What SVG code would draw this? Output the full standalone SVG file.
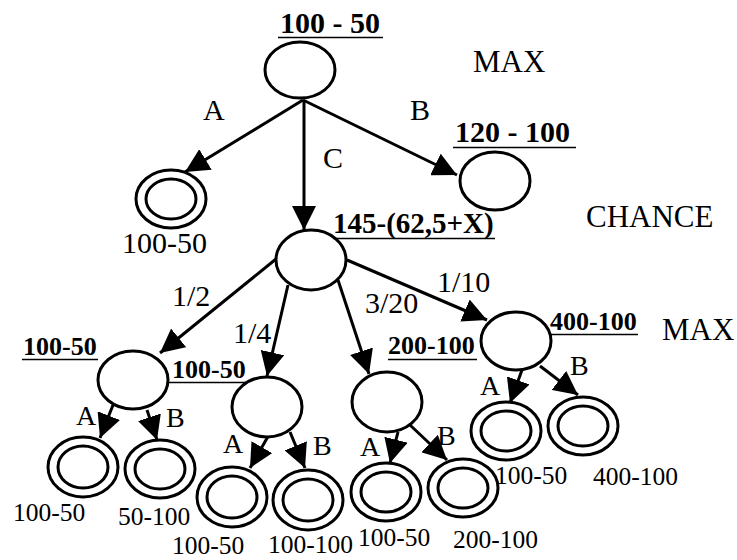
<svg xmlns="http://www.w3.org/2000/svg" width="737" height="560" viewBox="0 0 737 560">
<style>
text{font-family:'Liberation Serif','Tinos','Times New Roman','Nimbus Roman','DejaVu Serif',serif;fill:#000}
.t{font-size:30px}
.h{font-size:31px}
.e{font-size:28px}
.v{font-size:25.5px}
.bt{font-size:30px;font-weight:bold}
.bs{font-size:26px;font-weight:bold}
.n{fill:#fff;stroke:#000;stroke-width:3}
.ul{stroke:#000;stroke-width:1.5}
.c{stroke:#000;stroke-width:3;fill:none;marker-end:url(#ah)}
</style>
<defs>
<marker id="ah" viewBox="0 0 10 10" refX="10" refY="5" markerWidth="8" markerHeight="8" orient="auto" markerUnits="strokeWidth">
<path d="M0,0 L10,5 L0,10 z" fill="#000"/>
</marker>
</defs>
<rect width="737" height="560" fill="#fff"/>
<g font-family="Liberation Serif, Tinos, Times New Roman, serif">
<g id="connectors">
<line class="c" x1="303" y1="100" x2="185" y2="172"/>
<line class="c" x1="304" y1="100" x2="304" y2="230"/>
<line class="c" x1="303" y1="100" x2="457" y2="175"/>
<line class="c" x1="276" y1="259" x2="160" y2="353"/>
<line class="c" x1="288" y1="285" x2="267" y2="376"/>
<line class="c" x1="338" y1="280" x2="369" y2="374"/>
<line class="c" x1="347" y1="260" x2="487" y2="320"/>
<line class="c" x1="113" y1="405" x2="100" y2="438"/>
<line class="c" x1="147" y1="410" x2="157" y2="440"/>
<line class="c" x1="270" y1="433" x2="250" y2="468"/>
<line class="c" x1="290" y1="432" x2="305" y2="468"/>
<line class="c" x1="398" y1="432" x2="390" y2="463"/>
<line class="c" x1="410" y1="425" x2="447" y2="460"/>
<line class="c" x1="522" y1="370" x2="510" y2="403"/>
<line class="c" x1="540" y1="366" x2="578" y2="395"/>
</g>
<g id="edge-labels">
<text class="t" x="203" y="120">A</text>
<text class="t" x="410" y="120">B</text>
<text class="t" x="323" y="168">C</text>
<text class="t" x="172" y="306">1/2</text>
<text class="t" x="233" y="343">1/4</text>
<text class="t" x="365" y="313">3/20</text>
<text class="t" x="437" y="292">1/10</text>
<text class="e" x="76" y="425">A</text>
<text class="e" x="166" y="427">B</text>
<text class="e" x="223" y="453">A</text>
<text class="e" x="313" y="455">B</text>
<text class="e" x="360" y="456">A</text>
<text class="e" x="437" y="445">B</text>
<text class="e" x="480" y="395">A</text>
<text class="e" x="570" y="375">B</text>
</g>
<g id="level-labels">
<text class="h" x="473" y="72">MAX</text>
<text class="h" x="586" y="227">CHANCE</text>
<text class="h" x="662" y="340">MAX</text>
</g>
<g id="root">
<ellipse class="n" cx="300" cy="70" rx="35" ry="28"/>
<text class="bt" x="280" y="33">100 - 50</text>
<line class="ul" x1="278" y1="37.5" x2="383" y2="37.5"/>
</g>
<g id="node-b">
<ellipse class="n" cx="495" cy="181" rx="35" ry="29"/>
<text class="bt" x="455" y="142">120 - 100</text>
<line class="ul" x1="453" y1="147.5" x2="576" y2="147.5"/>
</g>
<g id="leaf-a">
<ellipse class="n" cx="171" cy="199" rx="35" ry="29"/>
<ellipse class="n" cx="171" cy="199" rx="25" ry="20"/>
<text class="t" x="122" y="253">100-50</text>
</g>
<g id="chance">
<ellipse class="n" cx="311" cy="260" rx="35" ry="30"/>
<text class="bt" style="font-size:29px" x="333" y="233">145-(62,5+X)</text>
<line class="ul" x1="333" y1="238.5" x2="495" y2="238.5"/>
</g>
<g id="max1">
<ellipse class="n" cx="133" cy="380" rx="35" ry="29"/>
<text class="bs" x="23" y="355">100-50</text>
<line class="ul" x1="22" y1="359.5" x2="98" y2="359.5"/>
</g>
<g id="max2">
<ellipse class="n" cx="267" cy="407" rx="35" ry="30"/>
<text class="bs" x="172" y="378">100-50</text>
<line class="ul" x1="168" y1="382.5" x2="247" y2="382.5"/>
</g>
<g id="max3">
<ellipse class="n" cx="387" cy="402" rx="35" ry="30"/>
<text class="bs" x="388" y="354">200-100</text>
<line class="ul" x1="388" y1="359.5" x2="477" y2="359.5"/>
</g>
<g id="max4">
<ellipse class="n" cx="516" cy="341" rx="35" ry="29"/>
<text class="bs" x="550" y="330">400-100</text>
<line class="ul" x1="550" y1="334.5" x2="638" y2="334.5"/>
</g>
<g id="leaf1a">
<ellipse class="n" cx="83" cy="467" rx="35" ry="30"/>
<ellipse class="n" cx="83" cy="467" rx="25" ry="21"/>
<text class="v" x="13" y="521">100-50</text>
</g>
<g id="leaf1b">
<ellipse class="n" cx="160" cy="469" rx="35" ry="29"/>
<ellipse class="n" cx="160" cy="469" rx="25" ry="20"/>
<text class="v" x="118" y="525">50-100</text>
</g>
<g id="leaf2a">
<ellipse class="n" cx="232" cy="497" rx="35" ry="30"/>
<ellipse class="n" cx="232" cy="497" rx="25" ry="21"/>
<text class="v" x="172" y="554">100-50</text>
</g>
<g id="leaf2b">
<ellipse class="n" cx="308" cy="500" rx="35" ry="30"/>
<ellipse class="n" cx="308" cy="500" rx="25" ry="21"/>
<text class="v" x="268" y="553">100-100</text>
</g>
<g id="leaf3a">
<ellipse class="n" cx="386" cy="492" rx="35" ry="29"/>
<ellipse class="n" cx="386" cy="492" rx="25" ry="20"/>
<text class="v" x="358" y="546">100-50</text>
</g>
<g id="leaf3b">
<ellipse class="n" cx="463" cy="488" rx="35" ry="29"/>
<ellipse class="n" cx="463" cy="488" rx="25" ry="20"/>
<text class="v" x="453" y="548">200-100</text>
</g>
<g id="leaf4a">
<ellipse class="n" cx="506" cy="431" rx="35" ry="29"/>
<ellipse class="n" cx="506" cy="431" rx="25" ry="20"/>
<text class="v" x="495" y="484">100-50</text>
</g>
<g id="leaf4b">
<ellipse class="n" cx="583" cy="426" rx="35" ry="29"/>
<ellipse class="n" cx="583" cy="426" rx="25" ry="20"/>
<text class="v" x="593" y="485">400-100</text>
</g>
</g>
</svg>
